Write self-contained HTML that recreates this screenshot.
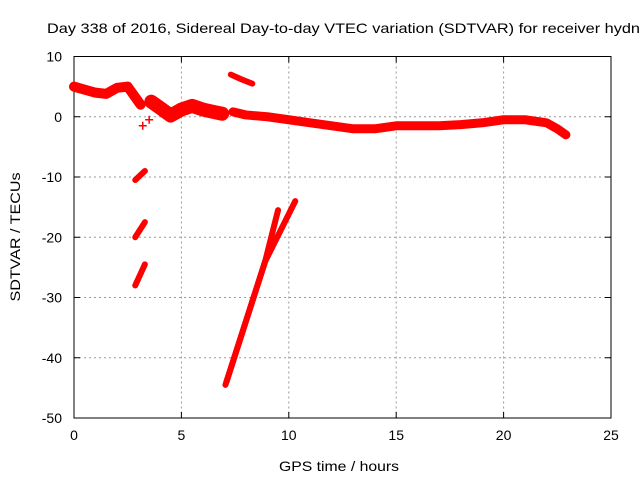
<!DOCTYPE html>
<html><head><meta charset="utf-8"><style>
body{margin:0;background:#fff;width:640px;height:480px;overflow:hidden}
svg text{font-family:"Liberation Sans",sans-serif;font-size:14px;fill:#000}
</style></head><body>
<svg id="chart" width="640" height="480" xmlns="http://www.w3.org/2000/svg"></svg>
<script>
const xTicks=[0,5,10,15,20,25];
const yTicks=[10,0,-10,-20,-30,-40,-50];
const bandMainX=[0,0.5,1,1.5,2,2.5,2.8,3.1];
const bandMainY=[5,4.5,4,3.8,4.8,5,3.5,2];
const bandMidX=[3.6,4,4.5,5,5.5,6,6.5,6.9];
const bandMidY=[2.5,1.5,0.2,1.2,1.8,1.2,0.8,0.5];
const bandLongX=[7.4,8,9,10,11,12,13,14,15,16,17,18,19,20,21,22,22.5,22.9];
const bandLongY=[0.8,0.3,0,-0.5,-1,-1.5,-2,-2,-1.5,-1.5,-1.5,-1.3,-1,-0.5,-0.5,-1,-2,-3];
const isoX=[7.3,7.8,8.3];
const isoY=[7,6.2,5.5];
const steepAX=[7.05,8.9,9.5];
const steepAY=[-44.5,-24,-15.5];
const steepBX=[7.1,8.9,10.3];
const steepBY=[-44,-24,-14];
const seg1X=[2.85,3.3];const seg1Y=[-10.5,-9];
const seg2X=[2.85,3.3];const seg2Y=[-20,-17.5];
const seg3X=[2.85,3.3];const seg3Y=[-28,-24.5];
const plusX=[3.2,3.5];const plusY=[-1.5,-0.5];
const L=74,R=611,T=56.5,B=418;
const sx=v=>L+(v-0)/25*(R-L);
const sy=v=>T+(10-v)/60*(B-T);
const svg=document.getElementById('chart');
const NS='http://www.w3.org/2000/svg';
function mk(t,a){const e=document.createElementNS(NS,t);for(const k in a)e.setAttribute(k,a[k]);svg.appendChild(e);return e;}
xTicks.forEach(v=>{if(v>0&&v<25){const g=mk('line',{x1:sx(v),x2:sx(v),y1:T,y2:B,stroke:'#999','stroke-dasharray':'2,3'});

}
const t=mk('text',{x:sx(v),y:B+22,'text-anchor':'middle'});t.textContent=v;


mk('line',{x1:sx(v),x2:sx(v),y1:B,y2:B-6,stroke:'#000'});mk('line',{x1:sx(v),x2:sx(v),y1:T,y2:T+6,stroke:'#000'});});
yTicks.forEach(v=>{if(v<10&&v>-50){const g=mk('line',{x1:L,x2:R,y1:sy(v),y2:sy(v),stroke:'#999','stroke-dasharray':'2,3'});

}
const t=mk('text',{x:L-12,y:sy(v)+5,'text-anchor':'end'});t.textContent=v;


mk('line',{x1:L,x2:L+6,y1:sy(v),y2:sy(v),stroke:'#000'});mk('line',{x1:R,x2:R-6,y1:sy(v),y2:sy(v),stroke:'#000'});});
const frame=mk('rect',{x:L,y:T,width:R-L,height:B-T,fill:'none',stroke:'#000'});


function band(xs,ys,w,name){const p=mk('polyline',{points:xs.map((x,i)=>sx(x)+','+sy(ys[i])).join(' '),fill:'none',stroke:'#f00','stroke-width':w,'stroke-linejoin':'round','stroke-linecap':'round'});

}
band(bandMainX,bandMainY,10,'series-band-early');
band(bandMidX,bandMidY,14,'series-band-mid');
band(bandLongX,bandLongY,9,'series-band-long');
band(isoX,isoY,6,'series-isolated');
band(steepAX,steepAY,6,'series-steep-a');
band(steepBX,steepBY,6,'series-steep-b');
band(seg1X,seg1Y,6,'series-seg-1');
band(seg2X,seg2Y,6,'series-seg-2');
band(seg3X,seg3Y,6,'series-seg-3');
plusX.forEach((x,i)=>{const p=mk('path',{d:`M${sx(x)-4},${sy(plusY[i])}h8M${sx(x)},${sy(plusY[i])-4}v8`,stroke:'#f00','stroke-width':1.5});

});
const title=mk('text',{x:47,y:33,textLength:593,lengthAdjust:'spacingAndGlyphs'});title.textContent='Day 338 of 2016, Sidereal Day-to-day VTEC variation (SDTVAR) for receiver hydn';


const xl=mk('text',{x:339,y:471,'text-anchor':'middle',textLength:120,lengthAdjust:'spacingAndGlyphs'});xl.textContent='GPS time / hours';


const yl=mk('text',{x:20,y:237,'text-anchor':'middle',textLength:129,lengthAdjust:'spacingAndGlyphs',transform:'rotate(-90 20 237)'});yl.textContent='SDTVAR / TECUs';


</script>
</body></html>
